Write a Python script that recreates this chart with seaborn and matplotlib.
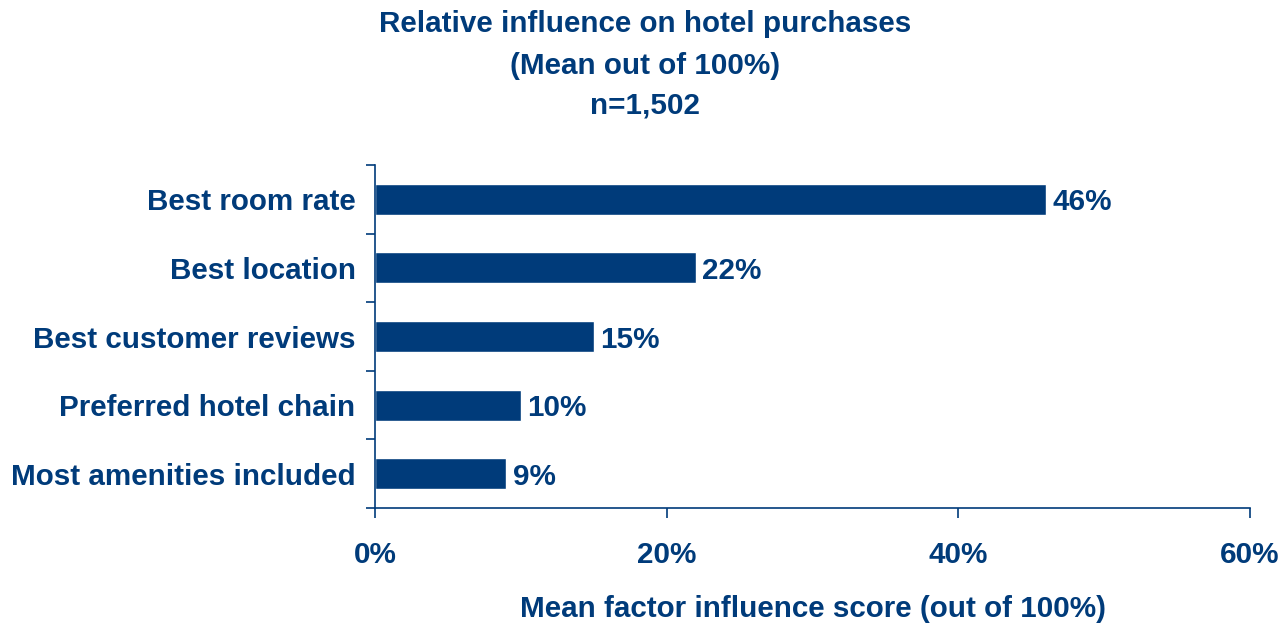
import seaborn as sns
import pandas as pd
import matplotlib.pyplot as plt
from matplotlib.ticker import FixedLocator

factors = ["Best room rate", "Best location", "Best customer reviews",
           "Preferred hotel chain", "Most amenities included"]
scores = [46, 22, 15, 10, 9]
x_ticks = [0, 20, 40, 60]
x_tick_labels = ["0%", "20%", "40%", "60%"]
title_lines = ["Relative influence on hotel purchases", "(Mean out of 100%)", "n=1,502"]

navy = "#003B7A"
fs = 21.3

sns.set_style("white")
plt.rcParams['font.family'] = ['Liberation Sans', 'DejaVu Sans']
plt.rcParams['font.weight'] = 'bold'

df = pd.DataFrame({"factor": factors, "score": scores})

fig = plt.figure(figsize=(12.84, 6.23), dpi=100)
ax = fig.add_axes([375 / 1284, 1 - 508 / 623, 875 / 1284, 343 / 623])

sns.barplot(data=df, x="score", y="factor", color=navy, saturation=1,
            width=0.45, ax=ax)

for i, v in enumerate(scores):
    ax.text(v + 0.45, i, f"{v}%", va="center_baseline", ha="left",
            fontsize=fs, fontweight="bold", color=navy)

ax.set_xlim(0, 60)
ax.set_ylim(4.5, -0.5)
ax.set_xticks(x_ticks)
ax.set_xticklabels(x_tick_labels, fontsize=fs, fontweight="bold", color=navy)
ax.tick_params(axis="x", bottom=True, direction="out", length=7.2, width=1.2,
               color=navy, pad=16.5)
ax.tick_params(axis="y", which="major", left=True, length=0, pad=14,
               labelsize=fs, labelcolor=navy)
ax.yaxis.set_minor_locator(FixedLocator([-0.5, 0.5, 1.5, 2.5, 3.5, 4.5]))
ax.tick_params(axis="y", which="minor", left=True, direction="out", length=6.5,
               width=1.2, color=navy)
for lab in ax.get_yticklabels():
    lab.set_fontweight("bold")

for side in ["top", "right"]:
    ax.spines[side].set_visible(False)
for side in ["left", "bottom"]:
    ax.spines[side].set_color(navy)
    ax.spines[side].set_linewidth(1.2)

ax.set_ylabel("")
ax.set_xlabel("Mean factor influence score (out of 100%)", fontsize=fs,
              fontweight="bold", color=navy, labelpad=18.5)

for line, y in zip(title_lines, [24, 66, 106]):
    fig.text(645.5 / 1284, 1 - y / 623, line, ha="center", va="center",
             fontsize=fs, fontweight="bold", color=navy)

fig.savefig("out.png", dpi=100)
